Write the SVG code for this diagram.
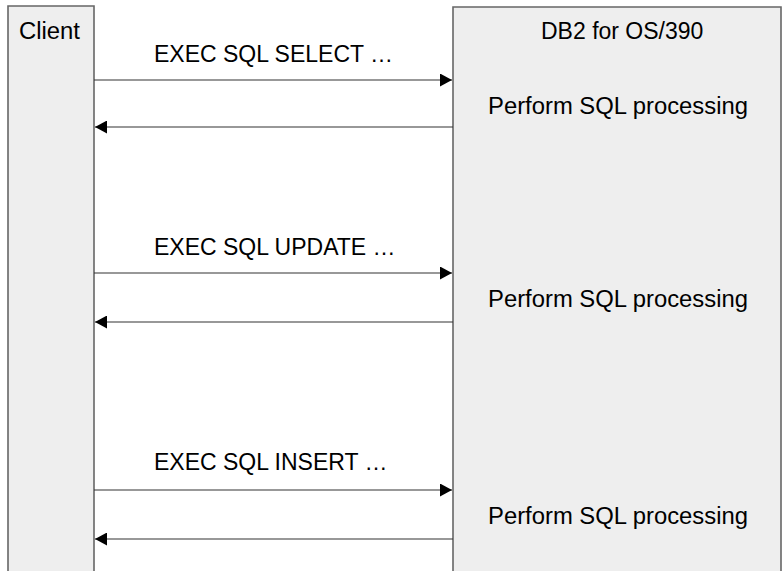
<svg xmlns="http://www.w3.org/2000/svg" width="783" height="571" viewBox="0 0 783 571">
<defs>
<style>
.box{fill:#eeeeee;stroke:#666666;stroke-width:1.6}
.t{font-family:"Liberation Sans",Arial,Helvetica,sans-serif;font-size:23px;fill:#000}
.msg{stroke:#333333;stroke-width:1.2;fill:none}
</style>
<marker id="ah" markerWidth="12" markerHeight="13" refX="12" refY="6.5" orient="auto" markerUnits="userSpaceOnUse">
<path d="M0,0 L12,6.5 L0,13 Z" fill="#000"/>
</marker>
</defs>
<rect width="783" height="571" fill="#ffffff"/>
<g id="client">
<path class="box" d="M8,575 V6 H94 V575"/>
<text class="t" x="19" y="39" textLength="61" lengthAdjust="spacingAndGlyphs">Client</text>
</g>
<g id="db2">
<path class="box" d="M453,575 V7 H781 V575"/>
<text class="t" x="541" y="39">DB2 for OS/390</text>
<text class="t" x="488" y="114" textLength="260" lengthAdjust="spacingAndGlyphs">Perform SQL processing</text>
<text class="t" x="488" y="307" textLength="260" lengthAdjust="spacingAndGlyphs">Perform SQL processing</text>
<text class="t" x="488" y="524" textLength="260" lengthAdjust="spacingAndGlyphs">Perform SQL processing</text>
</g>
<g id="labels">
<text class="t" x="154" y="62">EXEC SQL SELECT …</text>
<text class="t" x="154" y="255">EXEC SQL UPDATE …</text>
<text class="t" x="154" y="470">EXEC SQL INSERT …</text>
</g>
<g id="connectors">
<line class="msg" x1="94" y1="80" x2="452" y2="80" marker-end="url(#ah)"/>
<line class="msg" x1="453" y1="127" x2="95" y2="127" marker-end="url(#ah)"/>
<line class="msg" x1="94" y1="273" x2="452" y2="273" marker-end="url(#ah)"/>
<line class="msg" x1="453" y1="322" x2="95" y2="322" marker-end="url(#ah)"/>
<line class="msg" x1="94" y1="490" x2="452" y2="490" marker-end="url(#ah)"/>
<line class="msg" x1="453" y1="539" x2="95" y2="539" marker-end="url(#ah)"/>
</g>
</svg>
